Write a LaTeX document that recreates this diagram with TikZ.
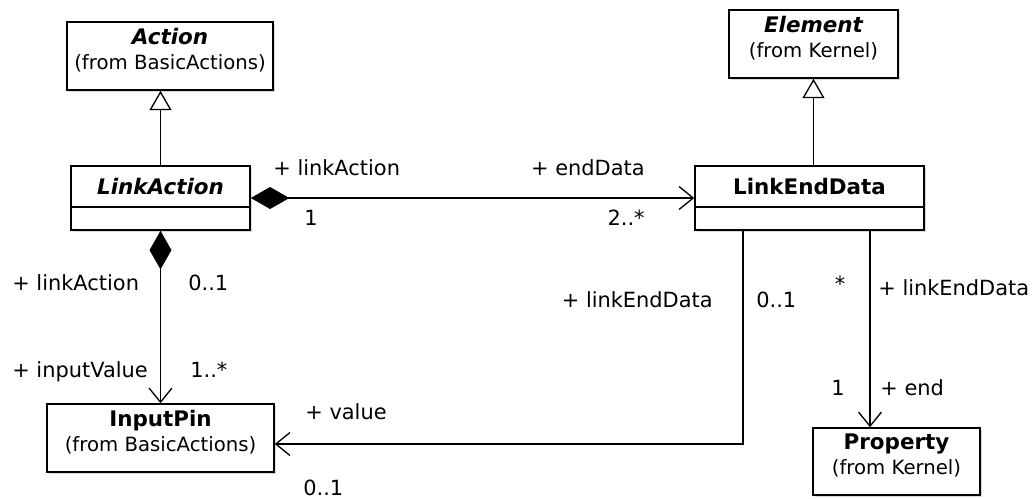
\documentclass[tikz,border=0pt]{standalone}
\usepackage{fontspec}
\setmainfont{DejaVu Sans}
\usetikzlibrary{arrows.meta,shadows,positioning}
\newcommand{\umlname}[1]{{\fontsize{12.2}{14}\selectfont\bfseries #1}}

\begin{document}
\begin{tikzpicture}[x=0.02cm, y=-0.02cm,
  every node/.style={font=\fontsize{11.2}{14}\selectfont},
  cls/.style={rectangle, draw, line width=0.9pt, fill=white, align=center, inner sep=0pt,
    drop shadow={shadow xshift=1.1pt, shadow yshift=-1.1pt, opacity=0.3}},
  namepart/.style={rectangle, inner sep=0pt, minimum height=0.82cm},
  lbl/.style={inner sep=0pt, text height=8pt, text depth=0pt, font=\fontsize{11.9}{14}\selectfont},
  assoc/.style={line width=0.75pt},
  gen/.style={assoc, -{Triangle[open, length=11pt, width=12.5pt, fill=white]}},
  nav/.style={assoc, -{Straight Barb[length=8pt, width=13pt]}},
  comp/.style={assoc, {Diamond[length=22pt, width=12.5pt]}-{Straight Barb[length=8pt, width=13pt]}}]
  \useasboundingbox (0,0) rectangle (1032,498);

  % classes
  \node[cls, minimum width=4.12cm, minimum height=1.36cm] (act) at (170,56)
    {\umlname{\itshape Action}\\(from BasicActions)\\[-6pt]};
  \node[cls, minimum width=3.38cm, minimum height=1.36cm] (el) at (813.5,44)
    {\umlname{\itshape Element}\\(from Kernel)\\[-6pt]};
  \node[cls, minimum width=3.58cm, minimum height=1.28cm] (la) at (160.5,198) {};
  \node[namepart, minimum width=3.58cm, anchor=north] (la-name) at (la.north)
    {\umlname{\itshape LinkAction}};
  \node[cls, minimum width=4.58cm, minimum height=1.28cm] (lend) at (809.5,198) {};
  \node[namepart, minimum width=4.58cm, anchor=north] (lend-name) at (lend.north)
    {\umlname{LinkEndData}};
  \node[cls, minimum width=4.54cm, minimum height=1.36cm] (ip) at (160.5,438)
    {\umlname{InputPin}\\(from BasicActions)\\[-6pt]};
  \node[cls, minimum width=3.34cm, minimum height=1.34cm] (prop) at (896.5,461.5)
    {\umlname{Property}\\(from Kernel)\\[-6pt]};
  \draw[line width=0.9pt] (la-name.south west) -- (la-name.south east);
  \draw[line width=0.9pt] (lend-name.south west) -- (lend-name.south east);

  % generalizations
  \draw[gen] (la.north) -- (la.north |- act.south);
  \draw[gen] (el.south |- lend.north) -- (el.south);

  % associations
  \draw[comp] (la.east) -- (la.east -| lend.west);
  \draw[comp] (la.south) -- (ip.north);
  \coordinate (vbend) at (743,444);
  \coordinate (pend) at (870,300);
  \draw[nav] (lend.south -| vbend) -- (vbend) -- (vbend -| ip.east);
  \draw[nav] (lend.south -| pend) -- (prop.north -| pend);

  % role names and multiplicities
  \node[lbl, anchor=west] (r-la1) at (273,168) {+ linkAction};
  \node[lbl] (m-la1) at (311,218) {1};
  \node[lbl, anchor=east] (r-ed) at (645,168) {+ endData};
  \node[lbl, anchor=east] (m-ed) at (645,218) {2..*};
  \node[lbl, anchor=west] (r-la2) at (12,283) {+ linkAction};
  \node[lbl, anchor=west] (m-la2) at (188,283) {0..1};
  \node[lbl, anchor=west] (r-iv) at (12,370) {+ inputValue};
  \node[lbl, anchor=west] (m-iv) at (190,370) {1..*};
  \node[lbl, anchor=east] (r-led1) at (713,300) {+ linkEndData};
  \node[lbl, anchor=west] (m-led1) at (756,300) {0..1};
  \node[lbl] (m-led2) at (840,284) {*};
  \node[lbl, anchor=west] (r-led2) at (878,288) {+ linkEndData};
  \node[lbl] (m-end) at (838,388) {1};
  \node[lbl, anchor=west] (r-end) at (880,388) {+ end};
  \node[lbl, anchor=west] (r-val) at (305,412) {+ value};
  \node[lbl, anchor=west] (m-val) at (303,488) {0..1};
\end{tikzpicture}
\end{document}
